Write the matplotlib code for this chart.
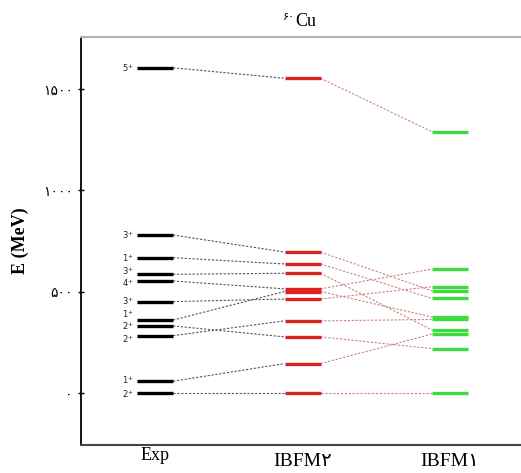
import matplotlib.pyplot as plt

# ========== data (keV) ==========
spins = ['5+', '3+', '1+', '3+', '4+', '3+', '1+', '2+', '2+', '1+', '2+']
exp_e = [1606, 780, 668, 586, 553, 451, 360, 331, 283, 58, 0]
ibfm2_e = [1554, 696, 637, 591, 514, 464, 501, 277, 356, 145, 0]
ibfm1_e = [1290, 505, 467, 311, 612, 525, 375, 219, 363, 291, 0]

columns = ['Exp', 'IBFM۲', 'IBFM۱']
col_x = [1, 2, 3]
yticks = [0, 500, 1000, 1500]
ytick_labels = ['۰', '۵۰۰', '۱۰۰۰', '۱۵۰۰']

# small vertical nudges so the crowded spin labels don't collide
label_nudge = [0, 0, 0, 14, -10, 0, 28, -3, -16, 6, -4]

half_w = 0.122
serif = ['Liberation Serif', 'DejaVu Sans']

fig = plt.figure(figsize=(5.21, 4.73), dpi=100)
ax = fig.add_axes([0.1555, 0.0592, 0.8445, 0.8626])

level_colors = ['black', '#dd2020', '#3ddc3d']
sets = [exp_e, ibfm2_e, ibfm1_e]

# level bars
for x, energies, c in zip(col_x, sets, level_colors):
    for e in energies:
        ax.plot([x - half_w, x + half_w], [e, e], color=c, lw=2.4,
                solid_capstyle='butt', zorder=3)

# dashed connectors
link_colors = ['#555555', '#d08080']
for i in range(2):
    x0 = col_x[i] + half_w
    x1 = col_x[i + 1] - half_w
    for e0, e1 in zip(sets[i], sets[i + 1]):
        ax.plot([x0, x1], [e0, e1], color=link_colors[i], lw=0.8,
                ls=(0, (2, 1.5)), zorder=2)

# spin labels at the experimental levels
for s, e, dn in zip(spins, exp_e, label_nudge):
    ax.text(col_x[0] - half_w - 0.02, e + dn, '$' + s[0] + '^{+}$',
            fontsize=6, ha='right', va='center', color='#222222')

ax.set_xlim(0.498, 3.481)
ax.set_ylim(-257, 1758)
ax.set_xticks([])
ax.set_yticks(yticks)
ax.set_yticklabels(ytick_labels, family=['DejaVu Sans'], fontsize=10)
ax.tick_params(axis='y', direction='inout', length=4, width=1, pad=4)

ax.spines['right'].set_visible(False)
ax.spines['left'].set_color('black')
ax.spines['left'].set_linewidth(1.3)
ax.spines['top'].set_color('#b0b0b0')
ax.spines['top'].set_linewidth(1.5)
ax.spines['bottom'].set_color('#444444')
ax.spines['bottom'].set_linewidth(1.5)

ax.set_ylabel('E (MeV)', family=serif, fontsize=13, fontweight='bold',
              labelpad=10)

# column names under the axis
ax.text(col_x[0], -268, columns[0], family=serif, fontsize=13,
        ha='center', va='top', clip_on=False)
for x, name in zip(col_x[1:], columns[1:]):
    ax.text(x, -295, name, family=serif, fontsize=14,
            ha='center', va='top', clip_on=False)

# title 60Cu
fig.text(0.566, 0.965, '۶۰', family=['DejaVu Sans'], fontsize=8,
         ha='right', va='center')
fig.text(0.566, 0.955, 'Cu', family=serif, fontsize=13, ha='left', va='center')

fig.savefig('out.png', dpi=100)
